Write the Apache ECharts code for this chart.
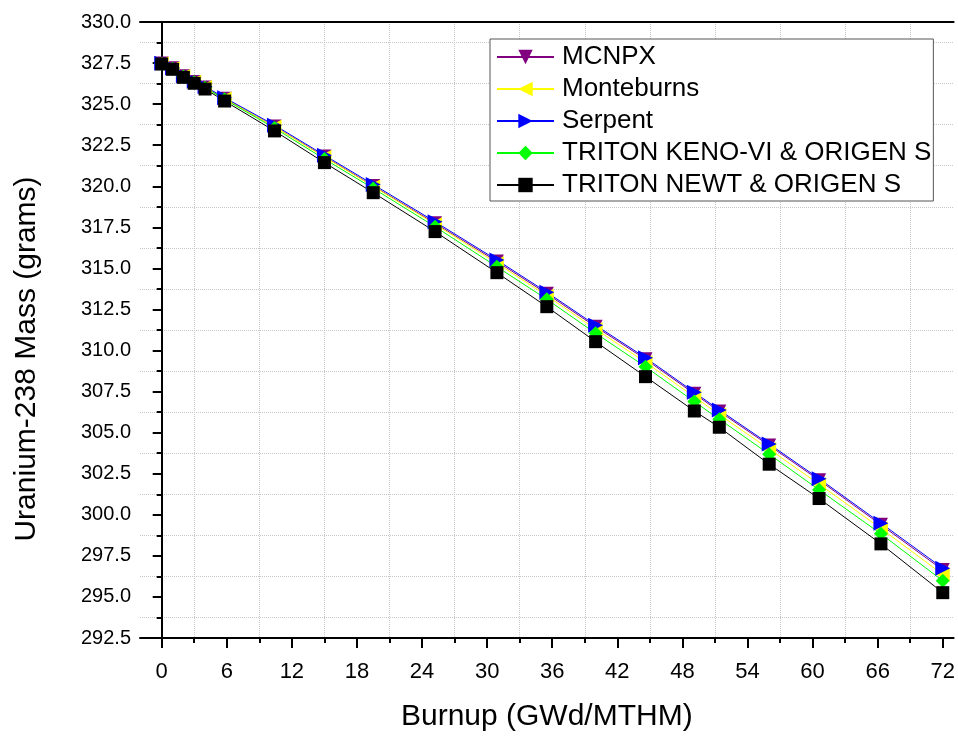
<!DOCTYPE html>
<html>
<head>
<meta charset="utf-8">
<title>U-238 mass vs burnup</title>
<script src="https://cdn.jsdelivr.net/npm/echarts@6/dist/echarts.min.js"></script>
<style>
  html, body { margin: 0; padding: 0; background: #fff; }
  #main { width: 958px; height: 738px; }
</style>
</head>
<body>
<div id="main"></div>
<script>
// burnup steps (GWd/MTHM)
var burnup = [0, 1, 2, 3, 4, 5.8, 10.4, 15, 19.5, 25.2, 30.9, 35.5, 40, 44.6, 49.1, 51.4, 56, 60.6, 66.3, 72];

// U-238 mass (grams) per code
var mcnpx      = [327.48, 327.18, 326.70, 326.35, 326.02, 325.33, 323.64, 321.81, 320.02, 317.75, 315.42, 313.46, 311.45, 309.47, 307.37, 306.29, 304.22, 302.11, 299.39, 296.64];
var monteburns = [327.48, 327.18, 326.71, 326.36, 326.04, 325.34, 323.63, 321.78, 319.99, 317.69, 315.31, 313.34, 311.30, 309.29, 307.18, 306.10, 304.00, 301.86, 299.17, 296.37];
var serpent    = [327.49, 327.20, 326.73, 326.39, 326.07, 325.39, 323.72, 321.89, 320.11, 317.84, 315.51, 313.55, 311.54, 309.56, 307.46, 306.38, 304.31, 302.20, 299.49, 296.75];
var tritonKeno = [327.46, 327.16, 326.68, 326.33, 326.00, 325.29, 323.54, 321.66, 319.87, 317.54, 315.10, 313.12, 311.05, 309.01, 306.89, 305.82, 303.69, 301.52, 298.84, 295.98];
var tritonNewt = [327.44, 327.12, 326.63, 326.27, 325.92, 325.19, 323.37, 321.44, 319.61, 317.24, 314.74, 312.67, 310.54, 308.41, 306.32, 305.33, 303.08, 300.99, 298.23, 295.26];

// tick positions
var xMajorTicks = [0, 6, 12, 18, 24, 30, 36, 42, 48, 54, 60, 66, 72];
var xMinorTicks = [3, 9, 15, 21, 27, 33, 39, 45, 51, 57, 63, 69];

var FONT = "'Liberation Sans', Arial, sans-serif";

function pairs(xs, ys) {
    var out = [];
    for (var i = 0; i < xs.length; i++) out.push([xs[i], ys[i]]);
    return out;
}

var chart = echarts.init(document.getElementById('main'));

var option = {
    animation: false,
    backgroundColor: '#fff',
    textStyle: { fontFamily: FONT },
    grid: { left: 140, top: 22, right: 0, bottom: 100 },
    legend: {
        orient: 'vertical',
        left: 490,
        top: 39,
        padding: [5, 2, 3, 6],
        backgroundColor: '#fff',
        borderColor: '#555',
        borderWidth: 1,
        borderRadius: 0,
        itemWidth: 57,
        itemHeight: 18,
        itemGap: 6,
        textStyle: { fontFamily: FONT, fontSize: 26, color: '#000', lineHeight: 26, padding: [0, 0, 0, 3] },
        data: ['MCNPX', 'Monteburns', 'Serpent', 'TRITON KENO-VI & ORIGEN S', 'TRITON NEWT & ORIGEN S']
    },
    xAxis: [
        {
            type: 'value',
            min: -2,
            max: 73,
            position: 'bottom',
            name: 'Burnup (GWd/MTHM)',
            nameLocation: 'middle',
            nameGap: 64,
            nameTextStyle: { fontFamily: FONT, fontSize: 30, color: '#000' },
            axisLine: { show: true, lineStyle: { color: '#000', width: 2 } },
            axisTick: { show: true, customValues: xMajorTicks, length: 10, lineStyle: { color: '#000', width: 2 } },
            axisLabel: { customValues: xMajorTicks, fontFamily: FONT, fontSize: 22, color: '#000', margin: 23 },
            splitLine: { show: false }
        },
        {
            type: 'value',
            min: -2,
            max: 73,
            position: 'bottom',
            axisLine: { show: false },
            axisTick: { show: true, customValues: xMinorTicks, length: 5, lineStyle: { color: '#000', width: 2 } },
            axisLabel: { show: false },
            splitLine: { show: true, lineStyle: { color: '#c8c8c8', type: 'dotted', width: 1 } }
        },
        {
            type: 'value',
            min: -2,
            max: 73,
            position: 'top',
            axisLine: { show: true, lineStyle: { color: '#000', width: 2 } },
            axisTick: { show: false },
            axisLabel: { show: false },
            splitLine: { show: false }
        }
    ],
    yAxis: {
        type: 'value',
        min: 292.5,
        max: 330,
        interval: 2.5,
        name: 'Uranium-238 Mass (grams)',
        nameLocation: 'middle',
        nameRotate: 90,
        nameGap: 98,
        nameTextStyle: { fontFamily: FONT, fontSize: 30, color: '#000', padding: [0, 58, 0, 0] },
        axisLine: { show: true, lineStyle: { color: '#000', width: 2 } },
        axisTick: { show: true, length: 9, lineStyle: { color: '#000', width: 2 } },
        minorTick: { show: true, splitNumber: 2, length: 5, lineStyle: { color: '#000', width: 2 } },
        axisLabel: {
            fontFamily: FONT, fontSize: 20, color: '#000', margin: 9,
            formatter: function (v) { return v.toFixed(1); }
        },
        splitLine: { show: false },
        minorSplitLine: { show: true, lineStyle: { color: '#c8c8c8', type: 'dotted', width: 1 } }
    },
    series: [
        {
            name: 'MCNPX', type: 'line', xAxisIndex: 0,
            data: pairs(burnup, mcnpx),
            symbol: 'triangle', symbolRotate: 180, symbolSize: 14,
            itemStyle: { color: '#800080' },
            lineStyle: { color: '#800080', width: 1 }
        },
        {
            name: 'Monteburns', type: 'line', xAxisIndex: 0,
            data: pairs(burnup, monteburns),
            symbol: 'triangle', symbolRotate: 90, symbolSize: 14,
            itemStyle: { color: '#ffff00' },
            lineStyle: { color: '#ffff00', width: 1 }
        },
        {
            name: 'Serpent', type: 'line', xAxisIndex: 0,
            data: pairs(burnup, serpent),
            symbol: 'triangle', symbolRotate: -90, symbolSize: 15,
            itemStyle: { color: '#0000ff' },
            lineStyle: { color: '#0000ff', width: 1 }
        },
        {
            name: 'TRITON KENO-VI & ORIGEN S', type: 'line', xAxisIndex: 0,
            data: pairs(burnup, tritonKeno),
            symbol: 'diamond', symbolSize: 14,
            itemStyle: { color: '#00ff00' },
            lineStyle: { color: '#00ff00', width: 1 }
        },
        {
            name: 'TRITON NEWT & ORIGEN S', type: 'line', xAxisIndex: 0,
            data: pairs(burnup, tritonNewt),
            symbol: 'rect', symbolSize: 13,
            itemStyle: { color: '#000' },
            lineStyle: { color: '#000', width: 1 }
        }
    ]
};

chart.setOption(option);
window.addEventListener('resize', function () {
    chart.resize();
});
</script>
</body>
</html>
